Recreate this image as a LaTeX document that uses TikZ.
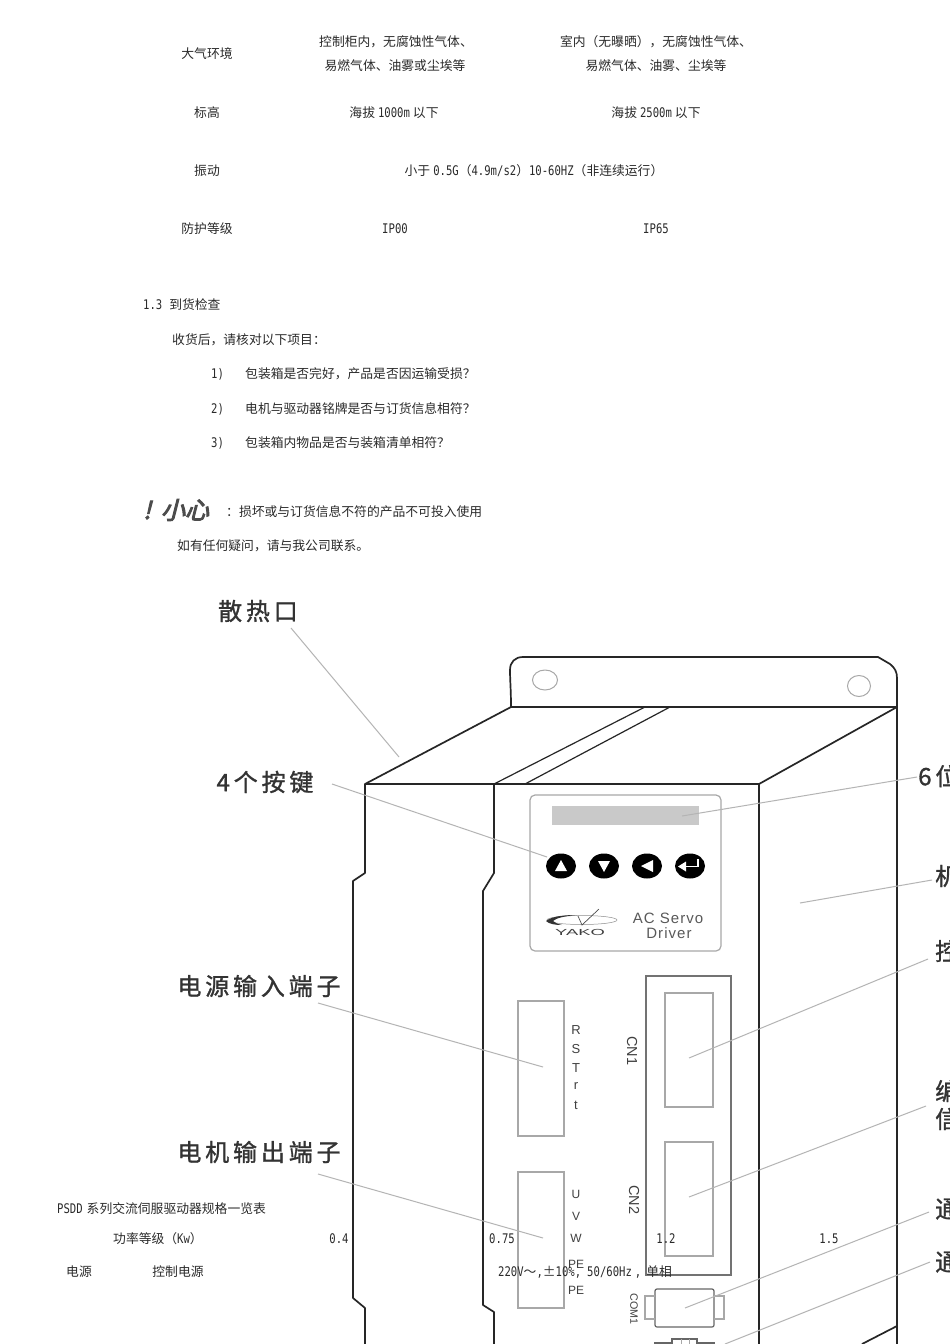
\documentclass[tikz,border=0pt]{standalone}
\usepackage{fontspec}
\usetikzlibrary{shapes.geometric}
\newfontfamily\cjk{Noto Sans CJK SC}
\newfontfamily\cjkwide[LetterSpace=16,FakeBold=1.2]{Noto Sans CJK SC}
\newfontfamily\cjkbrush[FakeSlant=0.25,FakeBold=4]{Noto Sans CJK SC}
\newfontfamily\latmono{DejaVu Sans Mono}
\newfontfamily\panelfont{Liberation Sans}
\newfontfamily\servofont[LetterSpace=7]{Liberation Sans}
\newcommand{\lat}[1]{\scalebox{1}[1.25]{\latmono\fontsize{10.6}{12}\selectfont #1}}
\definecolor{caseline}{HTML}{262626}
\definecolor{greyline}{HTML}{A8A8A8}
\definecolor{leaderline}{HTML}{B4B4B4}
\definecolor{printtext}{HTML}{2A2A2A}
\tikzset{
  bodytext/.style={inner sep=0pt,yshift=-1pt,text=printtext,font=\cjk\fontsize{12.8}{15}\selectfont},
  calltext/.style={inner sep=0pt,yshift=1pt,text=black!80,font=\cjkwide\fontsize{24}{27}\selectfont},
  pintext/.style={inner sep=0pt,text=black!75,font=\panelfont\fontsize{13}{15}\selectfont},
  jacktext/.style={inner sep=0pt,rotate=-90,text=black!75,font=\panelfont\fontsize{14.5}{16}\selectfont},
  caseedge/.style={draw=caseline,line width=1.7pt,line join=round},
  greybox/.style={draw=greyline,line width=1.2pt},
  leader/.style={draw=leaderline,line width=1pt},
  keycap/.style={ellipse,fill=black,minimum width=30pt,minimum height=25pt,inner sep=0pt},
}
\begin{document}
\begin{tikzpicture}[x=1pt,y=-1pt]
\useasboundingbox[fill=white] (0,0) rectangle (950,1344);
% table on top
\node[bodytext] (atmoHead) at (207,53) {大气环境};
\node[bodytext] (atmoA) at (396,41) {控制柜内，无腐蚀性气体、};
\node[bodytext] (atmoB) at (395,65) {易燃气体、油雾或尘埃等};
\node[bodytext] (atmoC) at (656,41) {室内（无曝晒），无腐蚀性气体、};
\node[bodytext] (atmoD) at (656,65) {易燃气体、油雾、尘埃等};
\node[bodytext] (heightHead) at (207,112) {标高};
\node[bodytext] (heightA) at (394,112) {海拔\hspace{3pt}\lat{1000m}\hspace{3pt}以下};
\node[bodytext] (heightB) at (656,112) {海拔\hspace{3pt}\lat{2500m}\hspace{3pt}以下};
\node[bodytext] (shakeHead) at (207,170) {振动};
\node[bodytext] (shakeA) at (534,170) {小于\hspace{3pt}\lat{0.5G}（\lat{4.9m/s2}）\lat{10-60HZ}（非连续运行）};
\node[bodytext] (guardHead) at (207,228) {防护等级};
\node[bodytext] (guardA) at (395,228) {\lat{IP00}};
\node[bodytext] (guardB) at (656,228) {\lat{IP65}};
% arrival check
\node[bodytext,anchor=west] (checkHead) at (143,304) {\lat{1.3}\hspace{7pt}到货检查};
\node[bodytext,anchor=west] (checkIntro) at (172,339) {收货后，请核对以下项目：};
\node[bodytext,anchor=west] (numA) at (211,373) {\lat{1)}};
\node[bodytext,anchor=west] (itemA) at (245,373) {包装箱是否完好，产品是否因运输受损？};
\node[bodytext,anchor=west] (numB) at (211,408) {\lat{2)}};
\node[bodytext,anchor=west] (itemB) at (245,408) {电机与驱动器铭牌是否与订货信息相符？};
\node[bodytext,anchor=west] (numC) at (211,442) {\lat{3)}};
\node[bodytext,anchor=west] (itemC) at (245,442) {包装箱内物品是否与装箱清单相符？};
\node[inner sep=0pt,anchor=west,text=black!70,font=\cjkbrush\fontsize{24}{27}\selectfont] (warnMark) at (143,510) {!\hspace{10pt}小心};
\node[bodytext,anchor=west] (warnText) at (226,511) {：损坏或与订货信息不符的产品不可投入使用};
\node[bodytext,anchor=west] (askText) at (177,545) {如有任何疑问，请与我公司联系。};
% driver case
\draw[caseedge] (511,707) .. controls (511,690) and (510,680) .. (510,670) .. controls (510,662) and (515,657) .. (523,657) -- (878,657) -- (890,664) .. controls (895,668) and (897,672) .. (897,678) -- (897,1344);
\draw[caseedge] (365,784) -- (511,707) -- (897,707) -- (759,784);
\draw[caseedge,line width=1.2pt] (494,784) -- (645,707) (525,784) -- (670,707);
\draw[caseedge] (365,1344) -- (365,1308) -- (353,1298) -- (353,881) -- (365,873) -- (365,784) -- (759,784) -- (759,1344);
\draw[caseedge] (494,1344) -- (494,1312) -- (483,1305) -- (483,891) -- (494,873) -- (494,784);
\draw[caseedge] (897,1326) -- (862,1344);
\draw[greybox,line width=1pt] (545,680) ellipse (12.5 and 10);
\draw[greybox,line width=1pt] (859,686) ellipse (11.5 and 10.5);
% panel
\draw[greybox,rounded corners=5pt] (530,795) rectangle (721,951);
\fill[black!21] (552,806) rectangle (699,825);
\node[keycap] (keyUp) at (561,866) {};
\node[keycap] (keyDown) at (604,866) {};
\node[keycap] (keyBack) at (647,866) {};
\node[keycap] (keyEnter) at (690,866) {};
\fill[white] (561,860) -- (567,871) -- (555,871) -- cycle;
\fill[white] (604,872) -- (598,861) -- (610,861) -- cycle;
\fill[white] (641,866) -- (653,860) -- (653,872) -- cycle;
\draw[white,line width=1.8pt] (698,859) -- (698,866.5) -- (684,866.5);
\fill[white] (678,866.5) -- (686,861.5) -- (686,871.5) -- cycle;
% logo
\draw[black!45,line width=.5pt] (582,920) ellipse (35 and 4.5);
\fill[black!80] (546,921) .. controls (552,916) and (565,915) .. (577,915) .. controls (565,916) and (556,918) .. (553,921) .. controls (555,923) and (558,924) .. (562,925) .. controls (555,925) and (549,924) .. (546,921) -- cycle;
\draw[black!70,line width=.7pt] (578,916) -- (582,925) -- (599,909);
\node[inner sep=0pt,text=black!75,font=\panelfont\fontsize{8}{9}\selectfont] (yakoText) at (580,932) {\scalebox{2.3}[1.1]{YAKO}};
\node[inner sep=0pt,text=black!65,font=\servofont\fontsize{15}{17}\selectfont] (servoText) at (668,918) {AC Servo};
\node[inner sep=0pt,text=black!65,font=\servofont\fontsize{15}{17}\selectfont] (driverText) at (669,933) {Driver};
% terminals
\draw[greybox] (518,1001) rectangle (564,1136);
\draw[greybox] (518,1172) rectangle (564,1308);
\foreach \pinname/\pinrow in {R/1030,S/1049,T/1068,r/1086,t/1105}
  \node[pintext] (pin\pinname) at (576,\pinrow) {\pinname};
\foreach \pinname/\pinrow in {U/1194,V/1216,W/1238}
  \node[pintext,font=\panelfont\fontsize{12}{14}\selectfont] (pin\pinname) at (576,\pinrow) {\pinname};
\node[pintext,font=\panelfont\fontsize{12}{14}\selectfont] (pinEarthA) at (576,1264) {PE};
\node[pintext,font=\panelfont\fontsize{12}{14}\selectfont] (pinEarthB) at (576,1290) {PE};
\draw[greybox,draw=black!55] (646,976) rectangle (731,1275);
\draw[greybox] (665,993) rectangle (713,1107);
\draw[greybox] (665,1142) rectangle (713,1256);
\node[jacktext] (cnOne) at (632,1051) {CN1};
\node[jacktext] (cnTwo) at (634,1200) {CN2};
\node[jacktext,font=\panelfont\fontsize{10.7}{12}\selectfont] (comOne) at (634,1309) {COM1};
\draw[greybox,draw=black!60,rounded corners=2pt] (655,1289) rectangle (714,1327);
\draw[greybox] (655,1296) -- (645,1296) -- (645,1319) -- (655,1319);
\draw[greybox] (714,1296) -- (724,1296) -- (724,1319) -- (714,1319);
\draw[greybox,draw=black!60] (655,1345) -- (655,1343) -- (672,1343) -- (672,1339) -- (697,1339) -- (697,1343) -- (714,1343) -- (714,1345);
\draw[greybox,line width=.8pt] (681,1339) -- (681,1345) (689,1339) -- (689,1345);
% callouts
\node[calltext] (ventLabel) at (258,612) {散热口};
\node[calltext] (keysLabel) at (265,783) {4个按键};
\node[calltext] (powerLabel) at (259,987) {电源输入端子};
\node[calltext] (motorLabel) at (259,1153) {电机输出端子};
\node[calltext,anchor=west] (ledLabel) at (918,777) {6位};
\node[calltext,anchor=west] (boxLabel) at (935,877) {机};
\node[calltext,anchor=west] (ctrlLabel) at (935,952) {控};
\node[calltext,anchor=west] (encLabelA) at (935,1092) {编};
\node[calltext,anchor=west] (encLabelB) at (935,1120) {信};
\node[calltext,anchor=west] (comLabelA) at (935,1210) {通};
\node[calltext,anchor=west] (comLabelB) at (935,1263) {通};
\coordinate (ventEnd) at (399,757);
\coordinate (keysEnd) at (547,857);
\coordinate (powerEnd) at (543,1067);
\coordinate (motorEnd) at (543,1238);
\coordinate (ledEnd) at (682,816);
\coordinate (boxEnd) at (800,903);
\coordinate (ctrlEnd) at (689,1058);
\coordinate (encEnd) at (689,1197);
\coordinate (comEndA) at (685,1308);
\coordinate (comEndB) at (725,1344);
\draw[leader] ([shift={(33,17)}]ventLabel.center) -- (ventEnd);
\draw[leader] ([shift={(67,2)}]keysLabel.center) -- (keysEnd);
\draw[leader] ([shift={(59,17)}]powerLabel.center) -- (powerEnd);
\draw[leader] ([shift={(59,22)}]motorLabel.center) -- (motorEnd);
\draw[leader] ([shift={(-1,1)}]ledLabel.west) -- (ledEnd);
\draw[leader] ([shift={(-3,4)}]boxLabel.west) -- (boxEnd);
\draw[leader] ([shift={(-7,8)}]ctrlLabel.west) -- (ctrlEnd);
\draw[leader] ([shift={(-9,15)}]encLabelA.west) -- (encEnd);
\draw[leader] ([shift={(-6,3)}]comLabelA.west) -- (comEndA);
\draw[leader] ([shift={(-5,0)}]comLabelB.west) -- (comEndB);
% spec table
\node[bodytext,anchor=west] (specHead) at (57,1208) {\lat{PSDD}\hspace{4pt}系列交流伺服驱动器规格一览表};
\node[bodytext,anchor=west] (ratingHead) at (113,1238) {功率等级（\lat{Kw}）};
\node[bodytext] (ratingA) at (339,1238) {\lat{0.4}};
\node[bodytext] (ratingB) at (502,1238) {\lat{0.75}};
\node[bodytext] (ratingC) at (666,1238) {\lat{1.2}};
\node[bodytext] (ratingD) at (829,1238) {\lat{1.5}};
\node[bodytext] (supplyHead) at (79,1271) {电源};
\node[bodytext] (supplySub) at (178,1271) {控制电源};
\node[bodytext,anchor=west] (supplyText) at (498,1271) {\lat{220V}～\lat{,}±\lat{10\%,}\hspace{6pt}\lat{50/60Hz}\hspace{3pt}\lat{,}\hspace{5pt}单相};
\end{tikzpicture}
\end{document}
